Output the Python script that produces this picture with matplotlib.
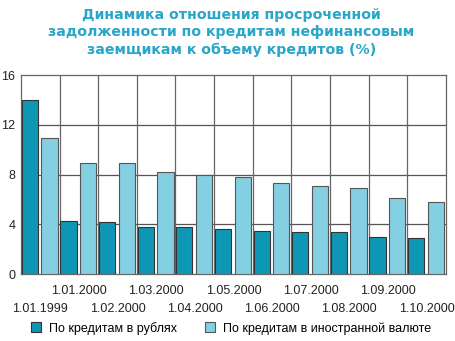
import matplotlib
matplotlib.use('Agg')
import matplotlib.pyplot as plt
from matplotlib.patches import Patch
import numpy as np

plt.rcParams['font.family'] = ['Liberation Sans', 'DejaVu Sans']

dates = ['1.01.1999', '1.01.2000', '1.02.2000', '1.03.2000', '1.04.2000', '1.05.2000',
         '1.06.2000', '1.07.2000', '1.08.2000', '1.09.2000', '1.10.2000']
rub = [14.0, 4.3, 4.2, 3.8, 3.8, 3.6, 3.5, 3.4, 3.4, 3.0, 2.9]
fx = [10.9, 8.9, 8.9, 8.2, 8.0, 7.8, 7.3, 7.1, 6.9, 6.1, 5.8]

dark = '#0e97b5'
light = '#84cfe2'
title_col = '#2aa6c8'

fig = plt.figure(figsize=(4.55, 3.41), dpi=100)
ax = fig.add_axes([0.046, 0.196, 0.934, 0.584])

x = np.arange(len(dates))
w = 0.42
ax.bar(x - 0.27, rub, w, color=dark, edgecolor='#333333', linewidth=0.8, zorder=3)
ax.bar(x + 0.24, fx, w, color=light, edgecolor='#555555', linewidth=0.8, zorder=3)

ax.set_xlim(-0.5, len(dates) - 0.5)
ax.set_ylim(0, 16)
ax.set_yticks([0, 4, 8, 12, 16])
ax.set_xticks(x)
ax.set_xticklabels([])
ax.tick_params(axis='both', length=0, labelsize=9, colors='#222222')
ax.tick_params(axis='y', pad=4)

# grid: horizontal at y ticks, vertical at category boundaries
for yv in [4, 8, 12]:
    ax.axhline(yv, color='#555555', lw=0.9, zorder=1)
for xv in np.arange(0.5, len(dates) - 0.5, 1):
    ax.axvline(xv, color='#666666', lw=0.9, zorder=1)
for s in ax.spines.values():
    s.set_color('#666666')
    s.set_linewidth(0.9)

# staggered date labels
for i, d in enumerate(dates):
    yoff = -0.085 if i % 2 else -0.175
    ax.text(i, yoff, d, transform=ax.get_xaxis_transform(), ha='center', va='center',
            fontsize=9, color='#222222')

fig.text(0.508, 0.905, 'Динамика отношения просроченной\nзадолженности по кредитам нефинансовым\nзаемщикам к объему кредитов (%)',
         ha='center', va='center', fontsize=10.2, fontweight='bold', color=title_col,
         family=['DejaVu Sans'], linespacing=1.3)

handles = [Patch(facecolor=dark, edgecolor='#333333', lw=0.8),
           Patch(facecolor=light, edgecolor='#555555', lw=0.8)]
fig.legend(handles, ['По кредитам в рублях', 'По кредитам в иностранной валюте'],
           loc='center', bbox_to_anchor=(0.508, 0.038), ncol=2, frameon=False,
           fontsize=9, handlelength=0.8, handleheight=0.8, columnspacing=2.3,
           handletextpad=0.6)

fig.savefig('out.png', dpi=100)
